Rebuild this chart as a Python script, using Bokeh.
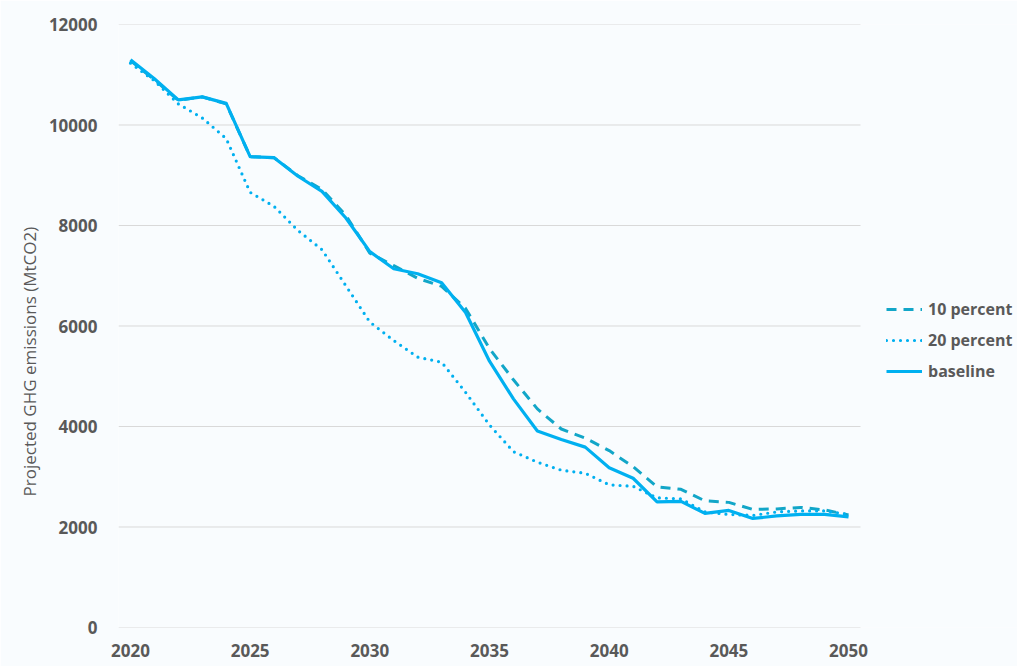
from bokeh.plotting import figure
from bokeh.models import Legend, LegendItem, Title, FixedTicker, Range1d
from bokeh.embed import file_html
from bokeh.resources import INLINE

years = [2020, 2021, 2022, 2023, 2024, 2025, 2026, 2027, 2028, 2029,
         2030, 2031, 2032, 2033, 2034, 2035, 2036, 2037, 2038, 2039,
         2040, 2041, 2042, 2043, 2044, 2045, 2046, 2047, 2048, 2049, 2050]

ten_percent = [11280, 10900, 10490, 10560, 10420, 9370, 9350, 8990, 8720, 8200,
               7450, 7200, 6950, 6790, 6350, 5550, 4930, 4350, 3950, 3770,
               3520, 3200, 2800, 2750, 2520, 2490, 2350, 2360, 2390, 2340, 2240]

twenty_percent = [11230, 10880, 10420, 10140, 9730, 8660, 8380, 7900, 7520, 6800,
                  6080, 5710, 5380, 5280, 4680, 4030, 3500, 3290, 3130, 3070,
                  2840, 2810, 2580, 2560, 2300, 2250, 2230, 2300, 2320, 2320, 2250]

baseline = [11300, 10920, 10500, 10560, 10430, 9370, 9350, 8980, 8680, 8150,
            7480, 7140, 7040, 6860, 6270, 5300, 4550, 3910, 3740, 3590,
            3180, 2970, 2500, 2510, 2270, 2330, 2170, 2220, 2250, 2250, 2200]

x_ticks = [2020, 2025, 2030, 2035, 2040, 2045, 2050]
y_ticks = [0, 2000, 4000, 6000, 8000, 10000, 12000]
series_labels = ["10 percent", "20 percent", "baseline"]
y_title = "Projected GHG emissions (MtCO2)"

BG = "#F9FCFE"
TXT = "#595959"

W, H = 1017, 666
LEFT, TOP, BOTTOM = 118, 24, 39
PLOT_W = 742                      # width of the plotting area (px)
FRAME_W = W - LEFT                # frame runs to the right edge to host the legend
x_start = years[0] - 0.5
x_span = len(years) * FRAME_W / PLOT_W

p = figure(width=W, height=H,
           x_range=Range1d(x_start, x_start + x_span),
           y_range=Range1d(y_ticks[0], y_ticks[-1]),
           output_backend="svg", toolbar_location=None,
           min_border_left=LEFT, min_border_right=0,
           min_border_top=TOP, min_border_bottom=BOTTOM)

p.background_fill_color = BG
p.border_fill_color = BG
p.outline_line_color = None

# horizontal gridlines limited to the plotting area
p.xgrid.grid_line_color = None
p.ygrid.grid_line_color = None
p.segment(x0=[years[0] - 0.5] * len(y_ticks), x1=[years[-1] + 0.5] * len(y_ticks),
          y0=y_ticks, y1=y_ticks, line_color="#D9D9D9", line_width=1)

r10 = p.line(years, ten_percent, line_color="#12A6C8", line_width=3,
             line_dash="10 7", line_join="round")
r20 = p.line(years, twenty_percent, line_color="#00B0F0", line_width=3.2,
             line_dash="0 7", line_cap="round", line_join="round")
rb = p.line(years, baseline, line_color="#00B0F0", line_width=3.2,
            line_join="round")

for ax in (p.xaxis[0], p.yaxis[0]):
    ax.axis_line_color = None
    ax.major_tick_line_color = None
    ax.minor_tick_line_color = None
    ax.major_tick_out = 0
    ax.major_tick_in = 0
    ax.major_label_text_font = "Open Sans"
    ax.major_label_text_font_style = "bold"
    ax.major_label_text_font_size = "17px"
    ax.major_label_text_color = TXT

p.xaxis.ticker = FixedTicker(ticks=x_ticks)
p.yaxis.ticker = FixedTicker(ticks=y_ticks)
p.xaxis.major_label_standoff = 16
p.yaxis.major_label_standoff = 21

ytitle = Title(text=y_title, align="left", offset=131,
               text_font="Open Sans", text_font_size="17px",
               text_font_style="normal", text_color=TXT,
               background_fill_alpha=0)
p.add_layout(ytitle, "left")

legend = Legend(items=[LegendItem(label=series_labels[0], renderers=[r10]),
                       LegendItem(label=series_labels[1], renderers=[r20]),
                       LegendItem(label=series_labels[2], renderers=[rb])],
                location=(768, 245), orientation="vertical",
                glyph_width=36, glyph_height=20, label_height=20,
                spacing=9, label_standoff=6, padding=0, margin=0,
                border_line_color=None, background_fill_alpha=0,
                label_text_font="Open Sans", label_text_font_style="bold",
                label_text_font_size="16px", label_text_color=TXT)
p.add_layout(legend)

open("out.html", "w").write(file_html(p, INLINE))
